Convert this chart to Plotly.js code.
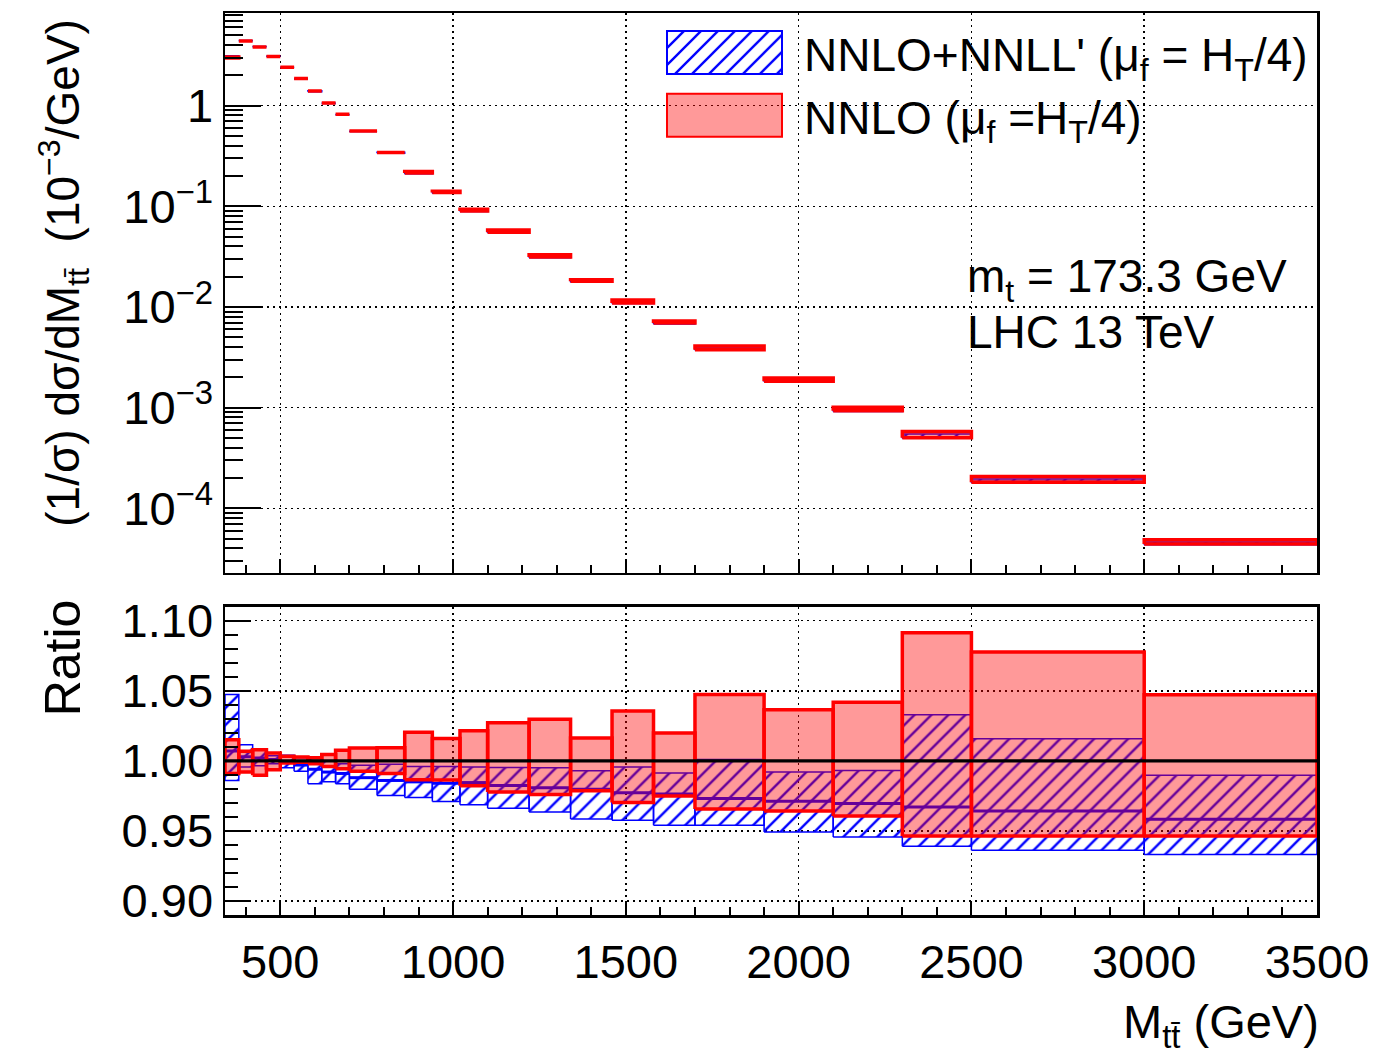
<!DOCTYPE html>
<html>
<head>
<meta charset="utf-8">
<script src="https://cdn.plot.ly/plotly-3.0.1.min.js"></script>
<style>
  html, body { margin: 0; padding: 0; background: #fff; }
  #chart { width: 1376px; height: 1060px; }
</style>
</head>
<body>
<div id="chart"></div>
<script>
// ---- data ----
const binEdges = [340,380,420,460,500,540,580,620,660,700,780,860,940,1020,1100,1220,1340,1460,1580,1700,1900,2100,2300,2500,3000,3500];
// NNLO central (1/sigma) dsigma/dM, 10^-3/GeV
const dsigma = [3.0, 4.43, 3.86, 3.10, 2.41, 1.86, 1.40, 1.07, 0.827, 0.564, 0.346, 0.217, 0.139, 0.0917, 0.0566, 0.0321, 0.0184, 0.0113, 0.0071, 0.0039, 0.0019, 0.00097, 0.00053, 0.000192, 0.0000466];
// NNLO band (ratio)
const redHi = [1.015, 1.0068, 1.008, 1.0056, 1.0032, 1.0027, 1.0022, 1.0046, 1.0075, 1.0091, 1.0093, 1.0204, 1.0160, 1.0215, 1.0272, 1.0296, 1.0163, 1.0355, 1.0198, 1.0474, 1.0365, 1.0419, 1.0914, 1.0776, 1.0472];
const redLo = [0.991, 0.992, 0.9897, 0.9937, 0.9984, 0.999, 0.998, 0.996, 0.9944, 0.9925, 0.991, 0.9866, 0.9863, 0.9822, 0.9778, 0.9760, 0.9786, 0.9702, 0.9750, 0.9656, 0.9642, 0.9606, 0.9464, 0.9464, 0.9464];
// NNLO+NNLL' band (ratio)
const blueHi = [1.0474, 1.0115, 1.0082, 1.0037, 1.004, 1.0023, 1.0027, 0.9998, 0.998, 0.9968, 0.9975, 0.996, 0.996, 0.9956, 0.9953, 0.9950, 0.9930, 0.9956, 0.9913, 1.001, 0.992, 0.9932, 1.0329, 1.0158, 0.9897];
const blueLo = [0.986, 0.9956, 0.9965, 0.998, 0.995, 0.9925, 0.9837, 0.985, 0.9837, 0.9797, 0.9752, 0.9738, 0.971, 0.9687, 0.9662, 0.9635, 0.9585, 0.9576, 0.954, 0.954, 0.9492, 0.9457, 0.939, 0.9362, 0.9331];
const blueMid = [1.007, 1.003, 1.002, 1.001, 0.9995, 0.997, 0.994, 0.992, 0.991, 0.988, 0.986, 0.985, 0.984, 0.9845, 0.9825, 0.9808, 0.9797, 0.9773, 0.9763, 0.9732, 0.9711, 0.9695, 0.967, 0.9642, 0.9583];

const xTickVals = [500,1000,1500,2000,2500,3000,3500];
const xTickText = ['500','1000','1500','2000','2500','3000','3500'];
const yTopTickVals = [1e-4,1e-3,1e-2,1e-1,1];
const yTopTickText = ['10<sup>\u22124</sup>','10<sup>\u22123</sup>','10<sup>\u22122</sup>','10<sup>\u22121</sup>','1'];
const yRatTickVals = [0.90,0.95,1.00,1.05,1.10];
const yRatTickText = ['0.90','0.95','1.00','1.05','1.10'];

const labelBlue = "NNLO+NNLL' (\u03bc<sub>f</sub> = H<sub>T</sub>/4)";
const labelRed = "NNLO (\u03bc<sub>f</sub> =H<sub>T</sub>/4)";

// ---- helpers building per-bin boxes / segments from the arrays ----
function boxes(lo, hi, scale) {
  const x = [], y = [];
  for (let i = 0; i < binEdges.length - 1; i++) {
    const s = scale ? scale[i] : 1;
    const a = binEdges[i], b = binEdges[i+1];
    const l = lo[i]*s, h = hi[i]*s;
    x.push(a, b, b, a, a, null);
    y.push(l, l, h, h, l, null);
  }
  return {x, y};
}
function segs(v, scale) {
  const x = [], y = [];
  for (let i = 0; i < binEdges.length - 1; i++) {
    const s = scale ? scale[i] : 1;
    x.push(binEdges[i], binEdges[i+1], null);
    y.push(v[i]*s, v[i]*s, null);
  }
  return {x, y};
}

const FONT = 'Liberation Sans, Arial, Helvetica, sans-serif';
const hatch = {shape: '/', fgcolor: '#0000ff', bgcolor: 'rgba(255,255,255,0)', size: 12, solidity: 0.2, fillmode: 'replace'};
const redFill = 'rgba(255,0,0,0.4)';

const bTop = boxes(blueLo, blueHi, dsigma);
const mTop = segs(blueMid, dsigma);
const rTop = boxes(redLo, redHi, dsigma);
const bRat = boxes(blueLo, blueHi);
const mRat = segs(blueMid);
const rRat = boxes(redLo, redHi);
const ones = dsigma.map(v => v / v);
const refRat = segs(ones);

const traces = [
  {x: bTop.x, y: bTop.y, xaxis: 'x', yaxis: 'y', type: 'scatter', mode: 'lines', fill: 'toself',
   fillcolor: 'rgba(255,255,255,0)', fillpattern: hatch, line: {color: '#0000ff', width: 1.5},
   name: labelBlue, showlegend: true, hoverinfo: 'skip'},
  {x: mTop.x, y: mTop.y, xaxis: 'x', yaxis: 'y', type: 'scatter', mode: 'lines',
   line: {color: '#0000ff', width: 1.5}, showlegend: false, hoverinfo: 'skip'},
  {x: rTop.x, y: rTop.y, xaxis: 'x', yaxis: 'y', type: 'scatter', mode: 'lines', fill: 'toself',
   fillcolor: redFill, line: {color: '#ff0000', width: 3.5}, name: labelRed, showlegend: true, hoverinfo: 'skip'},

  {x: bRat.x, y: bRat.y, xaxis: 'x2', yaxis: 'y2', type: 'scatter', mode: 'lines', fill: 'toself',
   fillcolor: 'rgba(255,255,255,0)', fillpattern: hatch, line: {color: '#0000ff', width: 1.5},
   showlegend: false, hoverinfo: 'skip'},
  {x: mRat.x, y: mRat.y, xaxis: 'x2', yaxis: 'y2', type: 'scatter', mode: 'lines',
   line: {color: '#0000ff', width: 3}, showlegend: false, hoverinfo: 'skip'},
  {x: rRat.x, y: rRat.y, xaxis: 'x2', yaxis: 'y2', type: 'scatter', mode: 'lines', fill: 'toself',
   fillcolor: redFill, line: {color: '#ff0000', width: 3.5}, showlegend: false, hoverinfo: 'skip'},
  {x: refRat.x, y: refRat.y, xaxis: 'x2', yaxis: 'y2', type: 'scatter', mode: 'lines',
   line: {color: '#000000', width: 3.2}, showlegend: false, hoverinfo: 'skip', connectgaps: true}
];

const gridDash = '2px,4px';
const commonX = {
  range: [340, 3500], autorange: false, tickmode: 'array', tickvals: xTickVals, ticktext: xTickText,
  ticks: 'inside', ticklen: 14, tickwidth: 2, tickcolor: '#000',
  minor: {ticks: 'inside', dtick: 100, tick0: 0, ticklen: 8, tickwidth: 2, tickcolor: '#000', showgrid: false},
  showgrid: true, gridcolor: '#000', gridwidth: 1.5, griddash: gridDash,
  showline: true, mirror: true, linecolor: '#000', linewidth: 2.5, zeroline: false,
  tickfont: {family: FONT, size: 47, color: '#000'}, fixedrange: true
};

const layout = {
  width: 1376, height: 1060,
  margin: {l: 225, r: 59, t: 13, b: 145, pad: 0},
  paper_bgcolor: '#fff', plot_bgcolor: '#fff',
  font: {family: FONT, color: '#000'},
  showlegend: true,
  legend: {x: 0.4002, y: 0.996, xanchor: 'left', yanchor: 'top', bgcolor: 'rgba(255,255,255,0)',
           font: {family: FONT, size: 46, color: '#000'}, itemwidth: 132, tracegroupgap: 0, traceorder: 'normal'},
  xaxis: Object.assign({}, commonX, {domain: [0, 1], anchor: 'y', showticklabels: false}),
  xaxis2: Object.assign({}, commonX, {domain: [0, 1], anchor: 'y2', showticklabels: true, ticklabelstandoff: 4}),
  yaxis: {
    domain: [0.3795, 1], type: 'log', range: [-4.64, 0.921], autorange: false,
    tickmode: 'array', tickvals: yTopTickVals, ticktext: yTopTickText,
    ticks: 'inside', ticklen: 36, tickwidth: 2, tickcolor: '#000',
    minor: {ticks: 'inside', dtick: 'D1', ticklen: 18, tickwidth: 2, tickcolor: '#000', showgrid: false},
    showgrid: true, gridcolor: '#000', gridwidth: 1.5, griddash: gridDash,
    showline: true, mirror: true, linecolor: '#000', linewidth: 2.5, zeroline: false,
    tickfont: {family: FONT, size: 47, color: '#000'}, fixedrange: true
  },
  yaxis2: {
    domain: [0, 0.3418], range: [0.89, 1.11], autorange: false,
    tickmode: 'array', tickvals: yRatTickVals, ticktext: yRatTickText,
    ticks: 'inside', ticklen: 26, tickwidth: 2, tickcolor: '#000',
    minor: {ticks: 'inside', dtick: 0.01, tick0: 0.9, ticklen: 13, tickwidth: 2, tickcolor: '#000', showgrid: false},
    showgrid: true, gridcolor: '#000', gridwidth: 1.5, griddash: gridDash,
    showline: true, mirror: true, linecolor: '#000', linewidth: 2.5, zeroline: false,
    tickfont: {family: FONT, size: 47, color: '#000'}, fixedrange: true
  },
  annotations: [
    {xref: 'paper', yref: 'paper', x: -0.1475, y: 0.712, xanchor: 'center', yanchor: 'middle', textangle: -90,
     text: '(1/\u03c3) d\u03c3/dM<sub>tt\u0304</sub>  (10<sup>\u22123</sup>/GeV)', showarrow: false,
     font: {family: FONT, size: 46, color: '#000'}},
    {xref: 'paper', yref: 'paper', x: -0.148, y: 0.285, xanchor: 'center', yanchor: 'middle', textangle: -90,
     text: 'Ratio', showarrow: false, font: {family: FONT, size: 50, color: '#000'}},
    {xref: 'paper', yref: 'paper', x: 1.004, y: -0.122, xanchor: 'right', yanchor: 'middle',
     text: 'M<sub>tt\u0304</sub> (GeV)', showarrow: false, font: {family: FONT, size: 47, color: '#000'}},
    {xref: 'paper', yref: 'paper', x: 0.678, y: 0.705, xanchor: 'left', yanchor: 'middle',
     text: 'm<sub>t</sub> = 173.3 GeV', showarrow: false, font: {family: FONT, size: 46, color: '#000'}},
    {xref: 'paper', yref: 'paper', x: 0.678, y: 0.646, xanchor: 'left', yanchor: 'middle',
     text: 'LHC 13 TeV', showarrow: false, font: {family: FONT, size: 46, color: '#000'}}
  ]
};

Plotly.newPlot('chart', traces, layout, {displayModeBar: false, staticPlot: true}).then(function (gd) {
  // enlarge the legend swatches into ROOT-style boxes with thin borders
  const rect = 'M5,-22h115v43h-115z';
  gd.querySelectorAll('.legend .traces').forEach(function (tr) {
    tr.querySelectorAll('path.js-fill').forEach(function (p) { p.setAttribute('d', rect); });
    tr.querySelectorAll('path.js-line').forEach(function (p) {
      p.setAttribute('d', rect); p.style.fill = 'none'; p.style.strokeWidth = '2px';
    });
  });
});
</script>
</body>
</html>
